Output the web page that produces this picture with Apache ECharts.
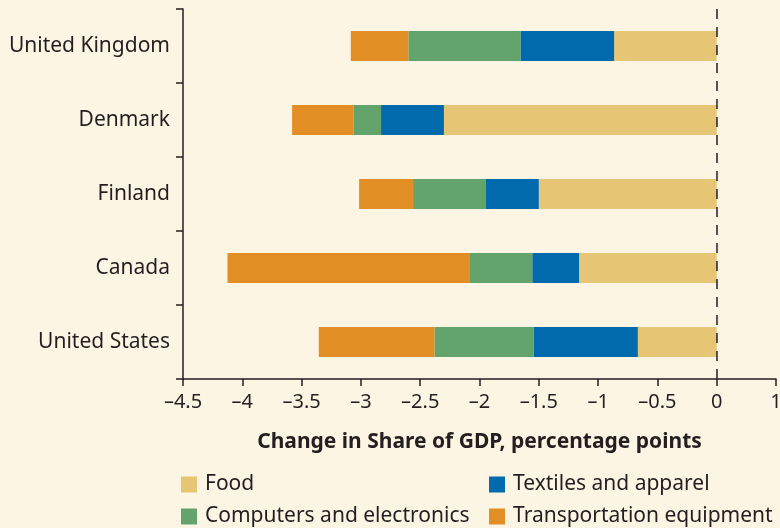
<!DOCTYPE html>
<html>
<head>
<meta charset="utf-8">
<script src="https://cdn.jsdelivr.net/npm/echarts@6/dist/echarts.min.js"></script>
<style>
  html, body { margin: 0; padding: 0; background: #fdf5e4; }
  #chart { width: 780px; height: 528px; }
</style>
</head>
<body>
<div id="chart"></div>
<script>
const countries = ['United Kingdom', 'Denmark', 'Finland', 'Canada', 'United States'];
const food = [-0.865, -2.30, -1.50, -1.16, -0.665];
const textiles = [-0.79, -0.53, -0.445, -0.395, -0.88];
const computers = [-0.945, -0.23, -0.615, -0.525, -0.835];
const transport = [-0.485, -0.52, -0.455, -2.045, -0.975];
const xTicks = [-4.5, -4, -3.5, -3, -2.5, -2, -1.5, -1, -0.5, 0, 0.5];
const xTickLabels = ['\u20134.5', '\u20134', '\u20133.5', '\u20133', '\u20132.5', '\u20132', '\u20131.5', '\u20131', '\u20130.5', '0', '1'];

const INK = '#231f20';
const FONT = '"Noto Sans", "Liberation Sans", sans-serif';
const COLORS = {
  food: '#e6c574',
  textiles: '#006aad',
  computers: '#63a46c',
  transport: '#e18e24',
};

const chart = echarts.init(document.getElementById('chart'));

function bar(name, data, color) {
  return {
    name,
    type: 'bar',
    stack: 'total',
    data,
    barWidth: 30,
    itemStyle: { color },
    emphasis: { disabled: true },
  };
}

const series = [
  bar('Food', food, COLORS.food),
  bar('Textiles and apparel', textiles, COLORS.textiles),
  bar('Computers and electronics', computers, COLORS.computers),
  bar('Transportation equipment', transport, COLORS.transport),
];

// dashed zero line
series[0].markLine = {
  silent: true,
  symbol: 'none',
  label: { show: false },
  lineStyle: { color: INK, type: [10, 8], width: 1.5 },
  data: [{ xAxis: 0 }],
};

const legendBase = {
  orient: 'vertical',
  icon: 'rect',
  itemWidth: 16,
  itemHeight: 16,
  itemGap: 11,
  padding: 0,
  selectedMode: false,
  textStyle: { color: INK, fontFamily: FONT, fontSize: 21, lineHeight: 20, padding: [0, 0, 0, 3] },
};

chart.setOption({
  backgroundColor: '#fdf5e4',
  animation: false,
  grid: { left: 183, right: 4, top: 9, bottom: 149, containLabel: false, outerBoundsMode: 'none' },
  legend: [
    { ...legendBase, left: 181, top: 474, data: ['Food', 'Computers and electronics'] },
    { ...legendBase, left: 489, top: 474, data: ['Textiles and apparel', 'Transportation equipment'] },
  ],
  xAxis: {
    type: 'value',
    min: xTicks[0],
    max: xTicks[xTicks.length - 1],
    interval: 0.5,
    name: 'Change in Share of GDP, percentage points',
    nameLocation: 'middle',
    nameGap: 53,
    nameTextStyle: { color: INK, fontFamily: FONT, fontSize: 21, fontWeight: 'bold' },
    splitLine: { show: false },
    axisLine: { show: true, lineStyle: { color: INK, width: 1.5 } },
    axisTick: { show: true, length: 7, lineStyle: { color: INK, width: 1.5 } },
    axisLabel: {
      color: INK,
      fontFamily: FONT,
      fontSize: 20,
      margin: 13,
      showMaxLabel: true,
      formatter: v => {
        const i = xTicks.findIndex(t => Math.abs(t - v) < 1e-9);
        return i >= 0 ? xTickLabels[i] : '';
      },
    },
  },
  yAxis: {
    type: 'category',
    data: countries,
    inverse: true,
    axisLine: { onZero: false, lineStyle: { color: INK, width: 1.5 } },
    axisTick: { show: true, length: 7, lineStyle: { color: INK, width: 1.5 } },
    axisLabel: { color: INK, fontFamily: FONT, fontSize: 21, margin: 13 },
  },
  series,
});
</script>
</body>
</html>
